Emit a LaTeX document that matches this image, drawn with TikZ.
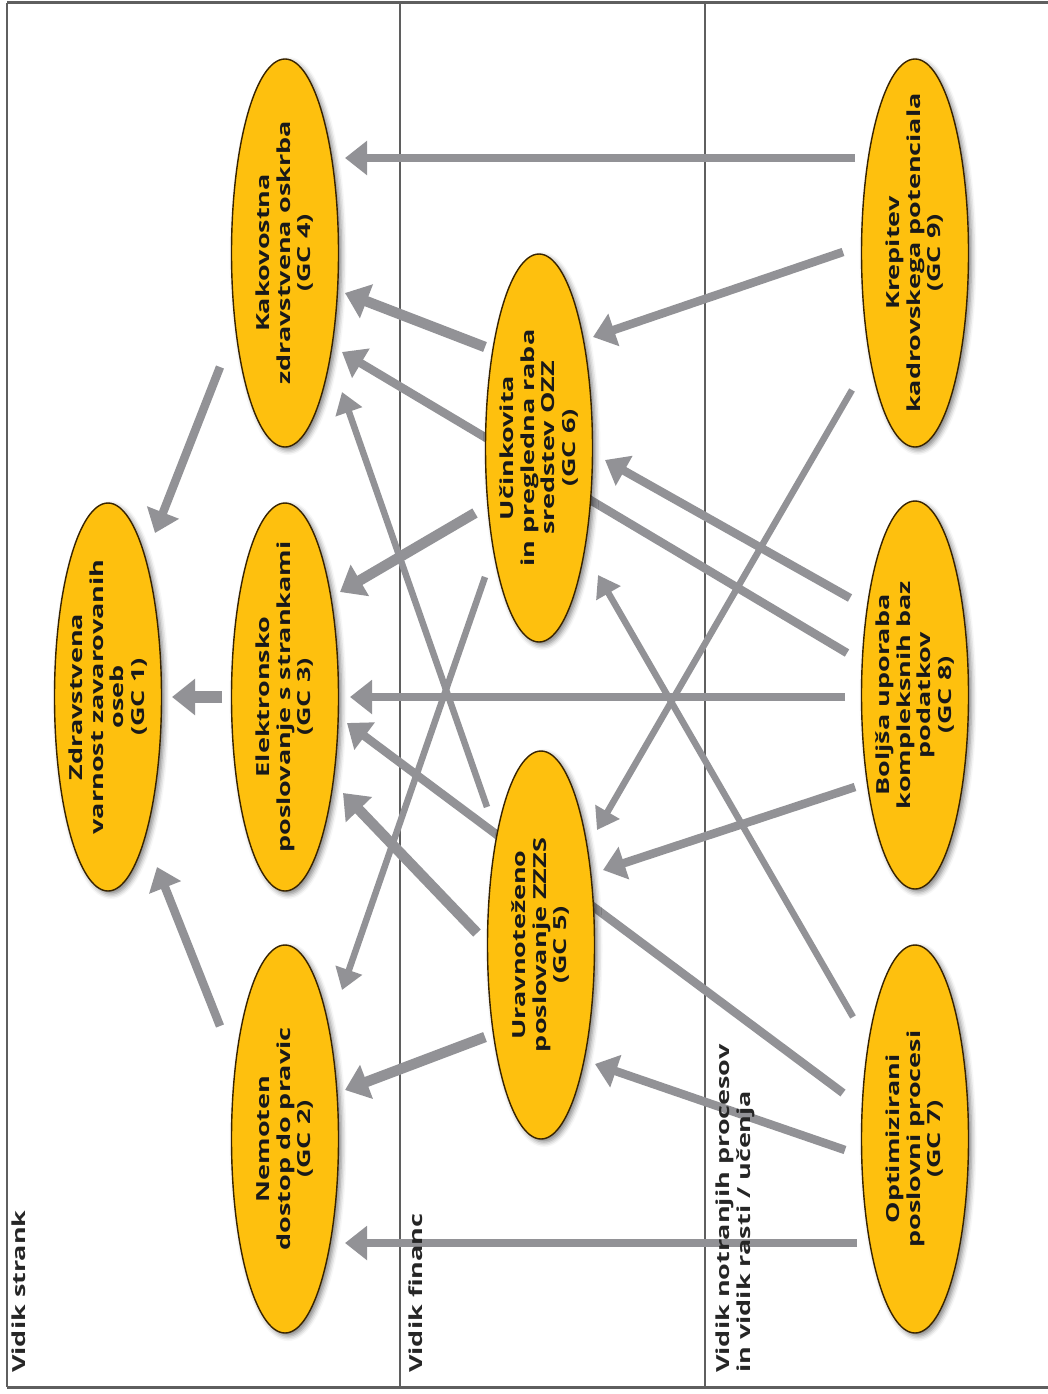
\documentclass[tikz,border=0pt]{standalone}
\usepackage{fontspec}
\newfontfamily\gcfont[FakeStretch=1.5]{Open Sans}
\usetikzlibrary{arrows.meta,shapes.geometric,shadows.blur}
\definecolor{ellfill}{RGB}{254,192,14}
\definecolor{elldraw}{RGB}{55,35,0}
\definecolor{arrgray}{RGB}{146,146,150}
\definecolor{framegray}{RGB}{95,95,95}
\pgfdeclarelayer{background}
\pgfdeclarelayer{arrowlayer}
\pgfsetlayers{background,arrowlayer,main}
\begin{document}
\begin{tikzpicture}[x=1pt,y=-1pt,
  gc/.style={ellipse, rotate=90, minimum width=388pt, minimum height=107pt,
    inner xsep=-60pt, inner ysep=-25pt, fill=ellfill, draw=elldraw, line width=1.4pt, align=center,
    font=\gcfont\bfseries\fontsize{18}{20.5}\selectfont, text=black!90,
    blur shadow={shadow xshift=3pt, shadow yshift=-3pt, shadow opacity=50, shadow blur radius=5pt}},
  lab/.style={rotate=90, anchor=north west, inner sep=0pt, align=left,
    font=\gcfont\bfseries\fontsize{18}{21}\selectfont, text=black!85},
  thk/.style={draw=arrgray, line width=10.5pt, -{Triangle[length=23pt,width=35pt]}},
  med/.style={draw=arrgray, line width=8.5pt, -{Triangle[length=22pt,width=33pt]}},
  thn/.style={draw=arrgray, line width=6.5pt, -{Triangle[length=21pt,width=27pt]}},
  frame/.style={draw=framegray, line width=1.3pt}
]
\useasboundingbox (0,0) rectangle (1048,1394);

% nodes
\node[gc] (gc1) at (108,697) {Zdravstvena\\varnost zavarovanih\\oseb\\(GC 1)};
\node[gc] (gc4) at (285,253) {Kakovostna\\zdravstvena oskrba\\(GC 4)};
\node[gc] (gc3) at (285,697) {Elektronsko\\poslovanje s strankami\\(GC 3)};
\node[gc] (gc2) at (285,1139) {Nemoten\\dostop do pravic\\(GC 2)};
\node[gc] (gc6) at (539,448) {Učinkovita\\in pregledna raba\\sredstev OZZ\\(GC 6)};
\node[gc] (gc5) at (541,945) {Uravnoteženo\\poslovanje ZZZS\\(GC 5)};
\node[gc] (gc9) at (915,253) {Krepitev\\kadrovskega potenciala\\(GC 9)};
\node[gc] (gc8) at (915,695) {Boljša uporaba\\kompleksnih baz\\podatkov\\(GC 8)};
\node[gc] (gc7) at (915,1139) {Optimizirani\\poslovni procesi\\(GC 7)};

% labels
\node[lab] (l1) at (12,1373) {Vidik strank};
\node[lab] (l2) at (409,1373) {Vidik financ};
\node[lab] (l3) at (716,1373) {Vidik notranjih procesov\\in vidik rasti / učenja};

\begin{pgfonlayer}{background}
\coordinate (tl) at (7,3);
\coordinate (bl) at (7,1387);
\coordinate (tr) at (1048,3);
\coordinate (br) at (1048,1387);
\coordinate (v1t) at (400,3);
\coordinate (v1b) at (400,1387);
\coordinate (v2t) at (705,3);
\coordinate (v2b) at (705,1387);
\draw[frame] (tl) -- (bl);
\draw[frame, line width=3pt] (tl) -- (tr);
\draw[frame, line width=3pt] (bl) -- (br);
\draw[frame] (v1t) -- (v1b);
\draw[frame] (v2t) -- (v2b);
\end{pgfonlayer}

\begin{pgfonlayer}{arrowlayer}
\draw[med] ([shift={(-60,-95)}]gc9.center) -- ([shift={(60,-95)}]gc4.center);
\draw[med] ([shift={(-72,-1)}]gc9.center) -- ([shift={(54,-111)}]gc6.center);
\draw[thn] ([shift={(-63,137)}]gc9.center) -- ([shift={(56,-115)}]gc5.center);
\draw[thk] ([shift={(-54,-101)}]gc6.center) -- ([shift={(60,40)}]gc4.center);
\draw[med] ([shift={(-68,-42)}]gc8.center) -- ([shift={(57,99)}]gc4.center);
\draw[med] ([shift={(-65,-97)}]gc8.center) -- ([shift={(66,12)}]gc6.center);
\draw[thk] ([shift={(-64,65)}]gc6.center) -- ([shift={(55,-105)}]gc3.center);
\draw[thn] ([shift={(-54,129)}]gc6.center) -- ([shift={(57,-149)}]gc2.center);
\draw[thn] ([shift={(-54,-138)}]gc5.center) -- ([shift={(57,139)}]gc4.center);
\draw[med] ([shift={(-70,2)}]gc8.center) -- ([shift={(65,0)}]gc3.center);
\draw[med] ([shift={(-72,-46)}]gc7.center) -- ([shift={(62,26)}]gc3.center);
\draw[thk] ([shift={(-64,-12)}]gc5.center) -- ([shift={(58,96)}]gc3.center);
\draw[thk] ([shift={(-56,92)}]gc5.center) -- ([shift={(60,-49)}]gc2.center);
\draw[med] ([shift={(-60,92)}]gc8.center) -- ([shift={(62,-75)}]gc5.center);
\draw[thn] ([shift={(-62,-122)}]gc7.center) -- ([shift={(59,127)}]gc6.center);
\draw[med] ([shift={(-70,11)}]gc7.center) -- ([shift={(54,119)}]gc5.center);
\draw[med] ([shift={(-58,104)}]gc7.center) -- ([shift={(60,104)}]gc2.center);
\draw[med] ([shift={(-65,114)}]gc4.center) -- ([shift={(47,-164)}]gc1.center);
\draw[thk, line width=12pt] ([shift={(-63,0)}]gc3.center) -- ([shift={(64,0)}]gc1.center);
\draw[med] ([shift={(-65,-113)}]gc2.center) -- ([shift={(49,170)}]gc1.center);
\end{pgfonlayer}
\end{tikzpicture}
\end{document}
